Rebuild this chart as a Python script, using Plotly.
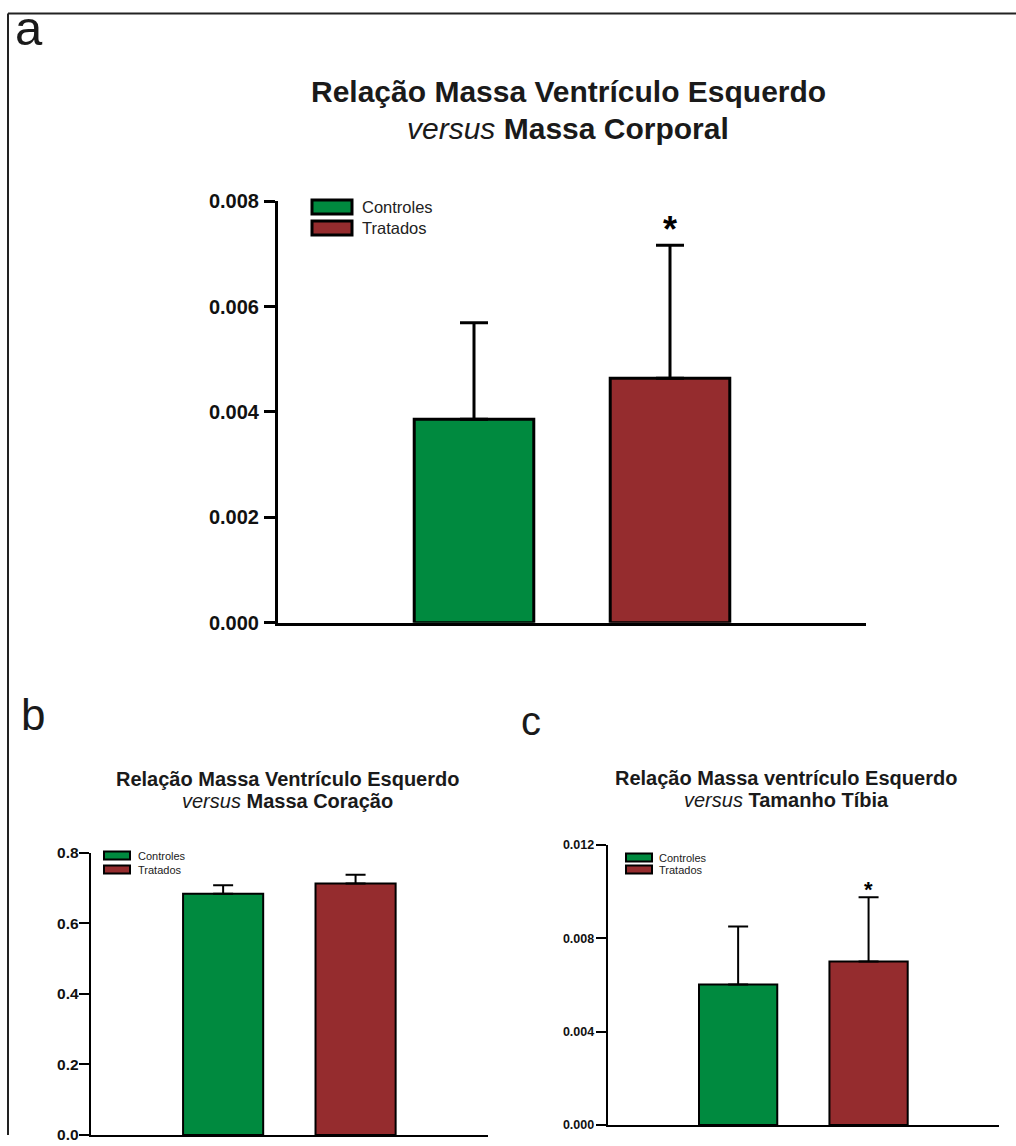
import plotly.graph_objects as go

W, H = 1016, 1146
FONT = "Liberation Sans, Arial, Helvetica, sans-serif"

# ---- data ----
groups = ["Controles", "Tratados"]
bar_colors = ["#008A3F", "#952C2E"]

# (a) left ventricle mass / body mass
a_means = [0.00386, 0.00464]
a_sd = [0.00183, 0.00252]
a_ticks = [0.000, 0.002, 0.004, 0.006, 0.008]
a_ticktext = ["0.000", "0.002", "0.004", "0.006", "0.008"]

# (b) left ventricle mass / heart mass
b_means = [0.684, 0.713]
b_sd = [0.024, 0.025]
b_ticks = [0.0, 0.2, 0.4, 0.6, 0.8]
b_ticktext = ["0.0", "0.2", "0.4", "0.6", "0.8"]

# (c) left ventricle mass / tibia length
c_means = [0.00602, 0.00701]
c_sd = [0.00248, 0.00275]
c_ticks = [0.000, 0.004, 0.008, 0.012]
c_ticktext = ["0.000", "0.004", "0.008", "0.012"]

signif = [False, True]  # asterisk over treated group (a and c)

bar_pos = [2, 4]

# vertical placement correction for the page offset of the plot div
Y_OFF, Y_SCALE = 7.5, 0.983


def fx(x):
    return x / W


def fy(y):
    v = 1 - ((y - Y_OFF) / Y_SCALE) / H
    return min(1.0, max(0.0, v))


fig = go.Figure()

panels = [
    dict(ax="", means=a_means, sd=a_sd, ticks=a_ticks, tt=a_ticktext, rng=[0, 0.008],
         xd=(278, 866), yd=(198, 620.7), lw=3, tick=11, stand=1, tfs=20, cap=14, star=True,
         starfs=36, starshift=-7, bw=1.22),
    dict(ax="2", means=b_means, sd=b_sd, ticks=b_ticks, tt=b_ticktext, rng=[0, 0.8],
         xd=(90.7, 488), yd=(851.3, 1135), lw=2, tick=10, stand=-3, tfs=15.5, cap=10, star=False,
         starfs=20, starshift=-4, bw=1.21),
    dict(ax="3", means=c_means, sd=c_sd, ticks=c_ticks, tt=c_ticktext, rng=[0, 0.012],
         xd=(607.7, 999), yd=(843.3, 1124), lw=2, tick=10, stand=-1, tfs=12.5, cap=10, star=True,
         starfs=22, starshift=-7, bw=1.2),
]

layout_axes = {}
annotations = []
shapes = []

for p in panels:
    xa = "x" + p["ax"]
    ya = "y" + p["ax"]
    for i, g in enumerate(groups):
        fig.add_trace(go.Bar(
            x=[bar_pos[i]], y=[p["means"][i]], width=p["bw"],
            marker=dict(color=bar_colors[i], line=dict(color="black", width=p["lw"])),
            error_y=dict(type="data", array=[p["sd"][i]], arrayminus=[0], symmetric=False,
                         color="black", thickness=p["lw"], width=p["cap"]),
            xaxis=xa, yaxis=ya, showlegend=False, name=g,
        ))
        if p["star"] and signif[i]:
            annotations.append(dict(
                x=bar_pos[i], y=p["means"][i] + p["sd"][i], xref=xa, yref=ya,
                text="<b>*</b>", showarrow=False, yanchor="bottom",
                font=dict(family=FONT, size=p["starfs"], color="black"), yshift=p["starshift"],
            ))
    key = p["ax"]
    layout_axes["xaxis" + key] = dict(
        domain=[fx(p["xd"][0]), fx(p["xd"][1])], range=[0, 6], anchor=ya,
        showgrid=False, zeroline=False, showticklabels=False, ticks="",
        showline=True, linecolor="black", linewidth=p["lw"],
    )
    layout_axes["yaxis" + key] = dict(
        domain=[fy(p["yd"][1]), fy(p["yd"][0])], range=p["rng"], anchor=xa,
        showgrid=False, zeroline=False, tickvals=p["ticks"], ticktext=p["tt"],
        ticks="outside", ticklen=p["tick"], tickwidth=p["lw"], tickcolor="black",
        ticklabelstandoff=p["stand"],
        showline=True, linecolor="black", linewidth=p["lw"],
        tickfont=dict(family=FONT, size=p["tfs"], color="#111", weight="bold"),
    )

# titles, one annotation per line
titles = [
    ("<b>Relação Massa Ventrículo Esquerdo</b>", 568, 88, 30),
    ("<i>versus</i> <b>Massa Corporal</b>", 568, 125, 30),
    ("<b>Relação Massa Ventrículo Esquerdo</b>", 287, 777, 20),
    ("<i>versus</i> <b>Massa Coração</b>", 287, 799, 20),
    ("<b>Relação Massa ventrículo Esquerdo</b>", 786, 776, 20),
    ("<i>versus</i> <b>Tamanho Tíbia</b>", 786, 798, 20),
]
for txt, x, y, fs in titles:
    annotations.append(dict(x=fx(x), y=fy(y), xref="paper", yref="paper", text=txt,
                            showarrow=False, xanchor="center", yanchor="middle",
                            font=dict(family=FONT, size=fs, color="#1a1a1a")))

# panel letters
for letter, x, y, fs in [("a", 13, 25, 49), ("b", 19, 713, 44), ("c", 519, 719, 40)]:
    annotations.append(dict(x=fx(x), y=fy(y), xref="paper", yref="paper", text=letter,
                            showarrow=False, xanchor="left", yanchor="middle",
                            font=dict(family=FONT, size=fs, color="#1a1a1a")))

# legends: swatch boxes and labels
legends = [
    # x0, x1, row tops, box height, text x, font size, line width
    (312, 352, [197, 218], 14, 360, 16.5, 3),
    (104, 130, [850, 864], 8, 136, 11, 2),
    (626, 652, [852, 864], 8, 657, 11, 2),
]
for x0, x1, tops, bh, tx, fs, lw in legends:
    for i, g in enumerate(groups):
        shapes.append(dict(type="rect", xref="paper", yref="paper",
                           x0=fx(x0), x1=fx(x1), y0=fy(tops[i]), y1=fy(tops[i] + bh),
                           fillcolor=bar_colors[i], line=dict(color="black", width=lw)))
        annotations.append(dict(x=fx(tx), y=fy(tops[i] + bh / 2), xref="paper", yref="paper",
                                text=g, showarrow=False, xanchor="left", yanchor="middle",
                                font=dict(family=FONT, size=fs, color="#222")))

# figure frame (top and left edges)
shapes.append(dict(type="line", xref="paper", yref="paper", x0=fx(8), x1=1, y0=fy(10), y1=fy(10),
                   line=dict(color="#222", width=2)))
shapes.append(dict(type="line", xref="paper", yref="paper", x0=fx(8), x1=fx(8), y0=fy(10), y1=0,
                   line=dict(color="#222", width=2)))

fig.update_layout(
    width=W, height=H, margin=dict(l=0, r=0, t=0, b=0),
    paper_bgcolor="white", plot_bgcolor="white",
    annotations=annotations, shapes=shapes, showlegend=False,
    barmode="overlay", **layout_axes,
)

fig.write_html("out.html")
